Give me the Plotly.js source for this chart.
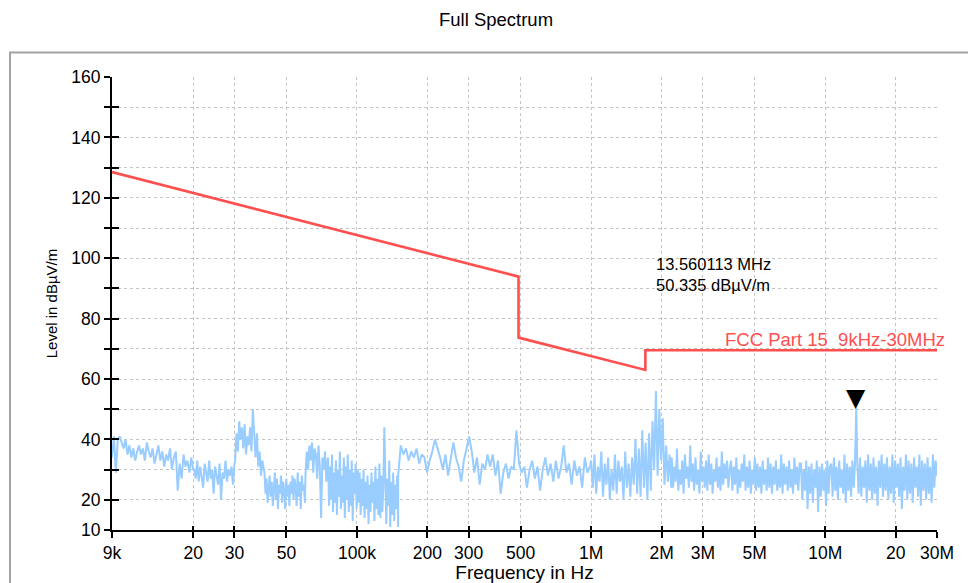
<!DOCTYPE html>
<html>
<head>
<meta charset="utf-8">
<script src="https://cdn.plot.ly/plotly-3.0.1.min.js"></script>
<style>html,body{margin:0;padding:0;background:#fff;}#chart{width:968px;height:583px;}</style>
</head>
<body>
<div id="chart"></div>
<script>
// ---------- DATA ----------
const xTickVals = [9e3, 2e4, 3e4, 5e4, 1e5, 2e5, 3e5, 5e5, 1e6, 2e6, 3e6, 5e6, 1e7, 2e7, 3e7];
const xTickText = ['9k', '20', '30', '50', '100k', '200', '300', '500', '1M', '2M', '3M', '5M', '10M', '20', '30M'];
const yTickVals = [10, 20, 30, 40, 50, 60, 70, 80, 90, 100, 110, 120, 130, 140, 150, 160];
const yTickText = ['10', '20', '', '40', '', '60', '', '80', '', '100', '', '120', '', '140', '', '160'];

// FCC Part 15 limit line
const limitFreqHz = [9e3, 490e3, 490e3, 1.705e6, 1.705e6, 30e6];
const limitLevel = [128.5, 93.9, 73.7, 63.0, 69.5, 69.5];

// Measured spectrum, read segment by segment (levels in dBµV/m)
const segStartHz = [9e3, 20.2e3, 30.2e3, 40.3e3, 60.3e3, 75.3e3, 150e3, 1.0e6, 2.21e6, 13.560113e6, 13.7e6];
const segStopHz  = [20e3, 30e3, 40e3, 60e3, 75e3, 150e3, 0.99e6, 2.2e6, 13.4e6, 13.560113e6, 30e6];

const lv9kTo20k = [34, 41, 29, 40, 41, 39, 37, 40, 35, 38, 34, 37, 33, 36, 38, 35, 37, 33, 39, 36,
                   34, 37, 32, 35, 38, 33, 36, 31, 35, 33, 37, 30, 34, 36, 23, 32, 27, 35, 31, 33,
                   29, 34, 30];
const lv20kTo30k = [30, 27, 33, 26, 31, 28, 24, 32, 29, 26, 33, 27, 30, 22, 31, 28, 25, 32, 20, 29,
                    27, 33, 26, 30, 28, 31, 25, 32];
const lv30kTo40k = [33, 42, 36, 46, 40, 44, 37, 45, 35, 41, 38, 44, 36, 50, 40, 34, 42, 31, 36, 28,
                    33, 30];
const lv40kTo60k = [29, 22, 27, 19, 25, 28, 21, 26, 18, 24, 29, 20, 27, 17, 25, 22, 28, 19, 26, 23,
                    17, 27, 21, 25, 18, 26, 22, 28, 20, 27, 24, 18, 29, 21, 26, 17, 28, 23, 25, 19];
const lv60kTo75k = [28, 36, 30, 38, 33, 39, 29, 37, 35, 27, 38, 31, 14, 34, 30, 36, 26, 33];
const lv75kTo150k = [34, 18, 31, 20, 35, 16, 29, 19, 33, 15, 30, 21, 36, 17, 28, 19, 34, 14, 31, 20,
                     35, 16, 30, 18, 33, 13, 29, 22, 32, 17, 30, 19,
                     29, 15, 27, 18, 30, 14, 26, 17, 28, 12, 25, 16, 29, 19, 26, 13, 31, 17, 27, 15,
                     32, 14, 28, 16, 24, 44, 30, 12, 27, 18, 33, 11, 26, 15, 29, 13, 25, 17, 28, 11];
const lv150kTo1M = [28, 38, 35, 37, 33, 36, 34, 37, 32, 35, 34, 29, 33, 36, 40, 37, 34, 30, 35, 28,
                    33, 39, 34, 31, 26, 33, 37, 41, 36, 29, 34, 25, 32, 30, 35, 31, 35, 28, 33, 22,
                    29, 32, 27, 31, 30, 43, 32, 29, 31, 24, 30, 33, 27, 31, 23, 30, 34, 28, 32, 26,
                    33, 27, 31, 38, 29, 32, 25, 33, 28, 31, 24, 34, 29, 31];
const lv1MTo2M = [33, 24, 35, 22, 31, 26, 36, 21, 32, 25, 34, 20, 30, 23, 35, 22, 33, 26, 31, 20,
                  36, 24, 32, 21, 34, 25, 40, 22, 37, 21, 43, 24, 39, 20, 42, 23, 46, 30, 56, 28,
                  50, 33, 47, 25, 38, 26, 35, 24];
const lv2MTo13M = [34, 24, 31, 26, 37, 23, 30, 25, 33, 22, 35, 27, 31, 24, 38, 26, 32, 23, 34, 25,
                   30, 22, 36, 26, 31, 24, 33, 23, 35, 25, 32, 22, 30, 26, 34, 24, 31, 23, 36, 25,
                   32, 27, 33, 24, 30,
                   33, 23, 31, 25, 34, 22, 30, 24, 32, 26, 35, 23, 31, 24, 33, 22, 30, 25, 34, 23,
                   32, 24, 31, 22, 33, 25, 30, 23, 34, 24, 32, 22, 31, 25, 33, 23, 30, 24, 35, 22,
                   32, 25, 31, 23, 33, 24, 30, 22, 34, 25, 31, 23, 32,
                   32, 20, 30, 23, 33, 17, 31, 22, 32, 19, 30, 24, 33, 16, 31, 21, 32, 23, 30, 18,
                   33, 22, 31,
                   32, 21, 34, 23, 31, 20, 33, 24, 30, 22, 35, 19, 32, 23, 31, 21, 33, 24, 32];
const lvPeak = [50.335];
const lv13MTo30M = [32, 22, 34, 21, 31, 24, 33, 19, 35, 23, 32, 20, 34, 22, 31, 18, 33, 24, 35, 21,
                    32, 23, 34, 20, 31, 22, 35, 19, 33, 24, 32, 21, 34, 17, 31, 23, 35, 20, 33, 22,
                    32, 19, 34, 24, 31, 21, 35, 18, 33, 23, 32, 20, 34, 22, 31, 19, 35, 24, 33, 28];

const markerFreqHz = 13.560113e6;
const markerLevel = 50.335;

// ---------- BUILD ----------
const segLevels = [lv9kTo20k, lv20kTo30k, lv30kTo40k, lv40kTo60k, lv60kTo75k, lv75kTo150k,
                   lv150kTo1M, lv1MTo2M, lv2MTo13M, lvPeak, lv13MTo30M];
const noiseX = [], noiseY = [];
segLevels.forEach((lv, s) => {
  const a = segStartHz[s], b = segStopHz[s], n = lv.length;
  lv.forEach((v, i) => {
    const f = n > 1 ? a * Math.pow(b / a, i / (n - 1)) : a;
    noiseX.push(f); noiseY.push(v);
  });
});

const FONT = '"Liberation Sans", Arial, Helvetica, sans-serif';
const L = 112, R = 937, T = 77, B = 530;
const px2paperX = p => (p - L) / (R - L);
const px2paperY = p => (B - p) / (B - T);

const traces = [
  {x: noiseX, y: noiseY, type: 'scatter', mode: 'lines',
   line: {color: '#99ccff', width: 2}, hoverinfo: 'skip'},
  {x: limitFreqHz, y: limitLevel, type: 'scatter', mode: 'lines',
   line: {color: '#ff4f4f', width: 2.6}, hoverinfo: 'skip'},
  {x: [], y: [], xaxis: 'x2', yaxis: 'y2', type: 'scatter', mode: 'lines'}
];

const xr = [Math.log10(9e3), Math.log10(30e6)];
const axBase = {showline: true, linecolor: '#000', linewidth: 2, ticks: 'outside', ticklen: 6,
  tickwidth: 2, tickcolor: '#000', showgrid: true, gridcolor: '#c4c4c4', griddash: 'dot',
  gridwidth: 1, zeroline: false, automargin: false, tickfont: {size: 17.5, color: '#000'}};

const layout = {
  width: 968, height: 583,
  margin: {l: L, r: 968 - R, t: T, b: 583 - B, pad: 0},
  paper_bgcolor: '#fff', plot_bgcolor: '#fff',
  showlegend: false,
  font: {family: FONT, color: '#000', size: 16},
  title: {text: 'Full Spectrum', xref: 'container', x: 496 / 968, xanchor: 'center',
          yref: 'container', y: 1 - 20 / 583, yanchor: 'middle', font: {size: 18.5, color: '#000'}},
  xaxis: Object.assign({}, axBase, {type: 'log', range: xr, tickmode: 'array',
          tickvals: xTickVals, ticktext: xTickText,
          title: {text: 'Frequency in Hz', font: {size: 19}, standoff: 12}}),
  yaxis: Object.assign({}, axBase, {range: [10, 160], tickmode: 'array',
          tickvals: yTickVals, ticktext: yTickText,
          title: {text: 'Level in dBµV/m', font: {size: 15}, standoff: 10}}),
  xaxis2: {type: 'log', range: xr, overlaying: 'x', anchor: 'y', side: 'bottom',
           tickmode: 'array', tickvals: xTickVals, ticks: 'inside', ticklen: 4, tickwidth: 2,
           tickcolor: '#000', showticklabels: false, showgrid: false, showline: false, zeroline: false},
  yaxis2: {range: [10, 160], overlaying: 'y', anchor: 'x', side: 'left',
           tickmode: 'array', tickvals: yTickVals, ticks: 'inside', ticklen: 7, tickwidth: 2,
           tickcolor: '#000', showticklabels: false, showgrid: false, showline: false, zeroline: false},
  shapes: [
    {type: 'rect', xref: 'paper', yref: 'paper', layer: 'below',
     x0: px2paperX(10), x1: px2paperX(1000), y0: px2paperY(640), y1: px2paperY(52.5),
     line: {color: '#a3a3a3', width: 2}, fillcolor: 'rgba(0,0,0,0)'}
  ],
  annotations: [
    {x: Math.log10(markerFreqHz), y: markerLevel, xref: 'x', yref: 'y', text: '▼',
     showarrow: false, xanchor: 'center', yanchor: 'bottom', yshift: -6,
     font: {size: 25, color: '#000', family: 'DejaVu Sans'}},
    {x: px2paperX(654), y: px2paperY(274), xref: 'paper', yref: 'paper',
     text: (markerFreqHz / 1e6).toFixed(6) + ' MHz<br>' + markerLevel.toFixed(3) + ' dBµV/m',
     showarrow: false, xanchor: 'left', yanchor: 'middle', align: 'left',
     font: {size: 16.5, color: '#000'}},
    {x: px2paperX(947), y: limitLevel[limitLevel.length - 1], xref: 'paper', yref: 'y',
     text: 'FCC Part 15\u00a0 9kHz-30MHz', showarrow: false, xanchor: 'right', yanchor: 'bottom',
     yshift: -2, font: {size: 18.5, color: '#ff4f4f'}}
  ]
};

Plotly.newPlot('chart', traces, layout, {displayModeBar: false, staticPlot: true});
</script>
</body>
</html>
